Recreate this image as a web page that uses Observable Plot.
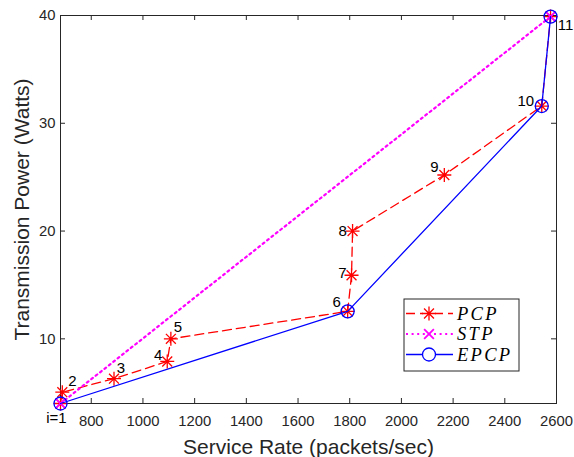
<!DOCTYPE html>
<html>
<head>
<meta charset="utf-8">
<script src="https://cdn.jsdelivr.net/npm/d3@7"></script>
<script src="https://cdn.jsdelivr.net/npm/@observablehq/plot@0.6"></script>
<style>
  html, body { margin: 0; padding: 0; background: #fff; }
  #chart svg { display: block; }
</style>
</head>
<body>
<div id="chart"></div>
<script>
// Iteration labels for the PCP trajectory
const stepLabels = ["i=1", "2", "3", "4", "5", "6", "7", "8", "9", "10", "11"];

// PCP: service rate (packets/sec) and transmission power (Watts) per iteration
const pcpRate  = [681, 688, 888, 1094, 1108, 1792, 1807, 1811, 2166, 2543, 2577];
const pcpPower = [4.0, 5.05, 6.3, 7.9, 10.0, 12.55, 15.9, 20.0, 25.2, 31.6, 39.9];

// STP: straight jump from the first to the last operating point
const stpRate  = [681, 2577];
const stpPower = [4.0, 39.9];

// EPCP: visits only a subset of the operating points
const epcpRate  = [681, 1792, 2543, 2577];
const epcpPower = [4.0, 12.55, 31.6, 39.9];

// Axis ticks
const xTicks = [800, 1000, 1200, 1400, 1600, 1800, 2000, 2200, 2400, 2600];
const yTicks = [10, 20, 30, 40];

const W = 574, H = 457;
const mL = 60, mR = 18, mT = 15, mB = 54;
const fw = W - mL - mR, fh = H - mT - mB;
const axisColor = "#262626";
const tick = 5;
const dotted = "2,3.6";

// MATLAB-style asterisk: plus and times combined (8 arms)
const asterisk8 = {
  draw(ctx, size) {
    const r = Math.sqrt(size / Math.PI);
    const d = r * Math.SQRT1_2;
    ctx.moveTo(0, -r); ctx.lineTo(0, r);
    ctx.moveTo(-r, 0); ctx.lineTo(r, 0);
    ctx.moveTo(-d, -d); ctx.lineTo(d, d);
    ctx.moveTo(-d, d); ctx.lineTo(d, -d);
  }
};

const pcp  = pcpRate.map((x, i) => ({x, y: pcpPower[i], label: stepLabels[i]}));
const stp  = stpRate.map((x, i) => ({x, y: stpPower[i]}));
const epcp = epcpRate.map((x, i) => ({x, y: epcpPower[i]}));

// Offsets (px) of each iteration label relative to its point
const labelOffset = [
  [-4, 15], [10, -11], [7, -11], [-9, -6], [7, -12], [-11, -9],
  [-9, -2], [-10, 0], [-10, -8], [-16, -5], [15, 9]
];

const labelMarks = pcp.map((d, i) =>
  Plot.text([d], {
    x: "x", y: "y", text: "label",
    dx: labelOffset[i][0], dy: labelOffset[i][1],
    fill: "#000", fontSize: 15
  })
);

const chart = Plot.plot({
  width: W,
  height: H,
  marginLeft: mL,
  marginRight: mR,
  marginTop: mT,
  marginBottom: mB,
  style: {fontFamily: "'Liberation Sans', Arial, sans-serif", fontSize: "14.8px", background: "#fff"},
  x: {domain: [681, 2600]},
  y: {domain: [4, 40]},
  marks: [
    // inward ticks on all four sides
    Plot.tickX(xTicks, {x: d => d, insetTop: fh - tick, stroke: axisColor}),
    Plot.tickX(xTicks, {x: d => d, insetBottom: fh - tick, stroke: axisColor}),
    Plot.tickY(yTicks, {y: d => d, insetRight: fw - tick, stroke: axisColor}),
    Plot.tickY(yTicks, {y: d => d, insetLeft: fw - tick, stroke: axisColor}),
    Plot.axisX({ticks: xTicks, tickFormat: "d", tickSize: 0, tickPadding: 12, label: null, fill: axisColor}),
    Plot.axisY({ticks: yTicks, tickFormat: "d", tickSize: 0, tickPadding: 5, label: null, fill: axisColor}),
    Plot.frame({stroke: axisColor, strokeWidth: 1}),
    // axis titles
    Plot.text(["Service Rate (packets/sec)"], {
      frameAnchor: "bottom", lineAnchor: "middle", textAnchor: "middle", dy: 44,
      text: d => d, fontSize: 21, fill: axisColor
    }),
    Plot.text(["Transmission Power (Watts)"], {
      frameAnchor: "left", lineAnchor: "middle", textAnchor: "middle", dx: -38, rotate: -90,
      text: d => d, fontSize: 21, fill: axisColor
    }),
    // PCP
    Plot.line(pcp, {x: "x", y: "y", stroke: "#ff0000", strokeWidth: 1.3, strokeDasharray: "9,5"}),
    Plot.dot(pcp, {x: "x", y: "y", symbol: asterisk8, r: 7, stroke: "#ff0000", strokeWidth: 1.3, fill: "none"}),
    // STP
    Plot.line(stp, {x: "x", y: "y", stroke: "#ff00ff", strokeWidth: 2.2, strokeDasharray: dotted}),
    Plot.dot(stp, {x: "x", y: "y", symbol: "times", r: 4.5, stroke: "#ff00ff", strokeWidth: 1.8}),
    // EPCP
    Plot.line(epcp, {x: "x", y: "y", stroke: "#0000ff", strokeWidth: 1.3}),
    Plot.dot(epcp, {x: "x", y: "y", r: 6.5, stroke: "#0000ff", strokeWidth: 1.3, fill: "none"}),
    ...labelMarks
  ]
});

// Legend box in the lower right of the plot area
const svg = d3.select(chart);
const lg = svg.append("g").attr("transform", "translate(404,299)").attr("text-anchor", "start");
lg.append("rect").attr("width", 115).attr("height", 72)
  .attr("fill", "#fff").attr("stroke", axisColor).attr("stroke-width", 1);
const entries = [
  {name: "PCP", color: "#ff0000", dash: "9,5", width: 1.3, marker: "asterisk"},
  {name: "STP", color: "#ff00ff", dash: dotted, width: 2.2, marker: "times"},
  {name: "EPCP", color: "#0000ff", dash: null, width: 1.3, marker: "circle"}
];
entries.forEach((e, i) => {
  const y = 14.5 + i * 20.5;
  lg.append("line").attr("x1", 2).attr("x2", 49).attr("y1", y).attr("y2", y)
    .attr("stroke", e.color).attr("stroke-width", e.width)
    .attr("stroke-dasharray", e.dash);
  const cx = 25;
  if (e.marker === "asterisk") {
    lg.append("rect").attr("x", cx - 6).attr("y", y - 3).attr("width", 12).attr("height", 6).attr("fill", "#fff");
    lg.append("path").attr("transform", `translate(${cx},${y})`)
      .attr("d", d3.symbol(asterisk8, Math.PI * 7 * 7)())
      .attr("stroke", e.color).attr("stroke-width", 1.3).attr("fill", "none");
  } else if (e.marker === "times") {
    lg.append("path").attr("transform", `translate(${cx},${y})`)
      .attr("d", d3.symbol(d3.symbolTimes, Math.PI * 4.5 * 4.5)())
      .attr("stroke", e.color).attr("stroke-width", 1.8).attr("fill", "none");
  } else {
    lg.append("circle").attr("cx", cx).attr("cy", y).attr("r", 6.5)
      .attr("stroke", e.color).attr("stroke-width", 1.3).attr("fill", "#fff");
  }
  lg.append("text").attr("x", 53).attr("y", y).attr("dy", "0.35em")
    .attr("text-anchor", "start")
    .attr("font-family", "'Liberation Serif', 'DejaVu Serif', serif")
    .attr("font-style", "italic").attr("font-size", 18.5)
    .attr("letter-spacing", "2.3px").attr("fill", "#000")
    .text(e.name);
});

document.getElementById("chart").appendChild(chart);
</script>
</body>
</html>
